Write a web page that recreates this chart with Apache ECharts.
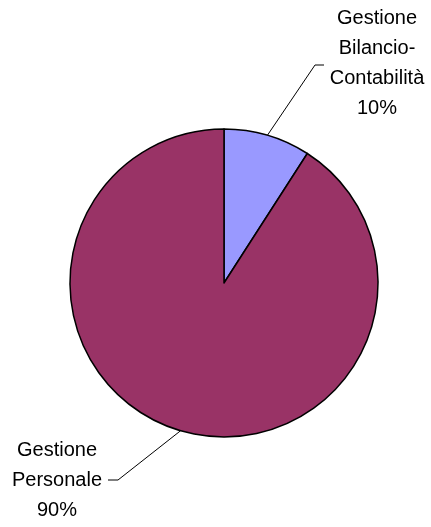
<!DOCTYPE html>
<html>
<head>
<meta charset="utf-8">
<script src="https://cdn.jsdelivr.net/npm/echarts@6/dist/echarts.min.js"></script>
<style>
  html, body { margin: 0; padding: 0; background: #fff; }
  #chart { width: 431px; height: 527px; }
</style>
</head>
<body>
<div id="chart"></div>
<script>
// dati
var categories = ["Gestione\nBilancio-\nContabilità", "Gestione\nPersonale"];
var values = [9.1, 90.9];
var percentLabels = ["10%", "90%"];
var colors = ["#9999ff", "#993366"];

var chart = echarts.init(document.getElementById("chart"));

// posizioni delle etichette (x, y, punti di gomito della linea)
var labelPos = [
  { x: 377, y: 63, bend: [[315, 65], [324, 65]] },
  { x: 57, y: 480, bend: [[118, 480], [108, 480]] }
];

var option = {
  animation: false,
  series: [
    {
      type: "pie",
      center: [224, 283],
      radius: 154,
      startAngle: 90,
      clockwise: true,
      data: categories.map(function (c, i) {
        return {
          name: c,
          value: values[i],
          itemStyle: { color: colors[i] }
        };
      }),
      itemStyle: { borderColor: "#000", borderWidth: 1.5 },
      label: {
        show: true,
        formatter: function (p) {
          return p.name + "\n" + percentLabels[p.dataIndex];
        },
        fontFamily: "Liberation Sans",
        fontSize: 20,
        lineHeight: 30,
        color: "#000",
        align: "center"
      },
      labelLine: {
        show: true,
        lineStyle: { color: "#000", width: 1 }
      },
      labelLayout: function (params) {
        var pos = labelPos[params.dataIndex];
        var start = params.labelLinePoints ? params.labelLinePoints[0] : pos.bend[0];
        return {
          x: pos.x,
          y: pos.y,
          align: "center",
          verticalAlign: "middle",
          labelLinePoints: [start, pos.bend[0], pos.bend[1]]
        };
      },
      emphasis: { disabled: true }
    }
  ]
};

chart.setOption(option);
</script>
</body>
</html>
